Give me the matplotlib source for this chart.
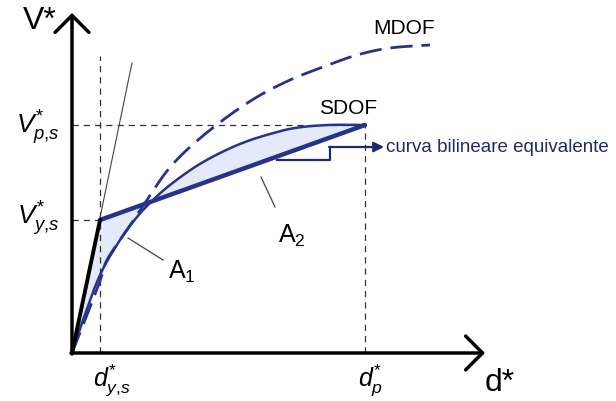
import matplotlib.pyplot as plt
import numpy as np

plt.rcParams['font.family'] = ['Liberation Sans', 'DejaVu Sans']
plt.rcParams['mathtext.fontset'] = 'custom'
plt.rcParams['mathtext.rm'] = 'Liberation Sans'
plt.rcParams['mathtext.it'] = 'Liberation Sans:italic'

# capacity curves (d*, V*) in drawing units
sdof_d = [0, 11, 28, 48, 65, 81, 98, 123, 148, 173, 198, 223, 256, 293]
sdof_V = [0, 33, 78, 113, 136, 153, 168, 186, 200, 211, 219, 225, 228, 228]

mdof_d = [0, 15, 28, 35, 55, 75, 95, 118, 151, 185, 218, 251, 285, 318, 358]
mdof_V = [0, 38, 72, 93, 123, 153, 182, 206, 233, 256, 273, 286, 298, 305, 308]

# equivalent bilinear curve
d_y, V_y = 28, 133
d_p, V_p = 293, 228
bil_d = [0, d_y, d_p]
bil_V = [0, V_y, V_p]

navy = '#27338a'
dark = '#1c2a6e'


def smooth(xs, ys, n=20):
    # catmull-rom through the read points, just for drawing
    p = np.column_stack([xs, ys]).astype(float)
    p = np.vstack([p[0], p, p[-1]])
    out = []
    t = np.linspace(0, 1, n, endpoint=False)[:, None]
    for i in range(1, len(p) - 2):
        p0, p1, p2, p3 = p[i - 1], p[i], p[i + 1], p[i + 2]
        out.append(0.5 * (2 * p1 + (-p0 + p2) * t + (2 * p0 - 5 * p1 + 4 * p2 - p3) * t ** 2
                          + (-p0 + 3 * p1 - 3 * p2 + p3) * t ** 3))
    out.append(p[-2][None, :])
    out = np.vstack(out)
    return out[:, 0], out[:, 1]


fig = plt.figure(figsize=(6.16, 4.01), dpi=100)
ax = fig.add_axes([0, 0, 1, 1])
ax.set_xlim(-72, 544)
ax.set_ylim(-48, 353)
ax.axis('off')

# axes with open arrow heads
arr = dict(arrowstyle='->,head_length=0.45,head_width=0.45', lw=2.5, color='black',
           mutation_scale=27, shrinkA=0, shrinkB=0)
ax.annotate('', xy=(0, 340), xytext=(0, -1), arrowprops=arr)
ax.annotate('', xy=(413, 0), xytext=(-1, 0), arrowprops=arr)

# guide lines
guide = dict(color='#333333', lw=0.9, ls=(0, (5, 4)))
ax.plot([0, d_p], [V_p, V_p], **guide)
ax.plot([d_p, d_p], [0, V_p], **guide)
ax.plot([0, d_y], [V_y, V_y], **guide)
ax.plot([d_y, d_y], [0, 297], **guide)

# initial stiffness line
ax.plot([0, 60], [0, 290], color='#444444', lw=0.8)

sx, sy = smooth(sdof_d, sdof_V)
mx, my = smooth(mdof_d, mdof_V)

# area between SDOF and bilinear
dd = np.linspace(0, d_p, 400)
ax.fill_between(dd, np.interp(dd, sx, sy), np.interp(dd, bil_d, bil_V),
                color='#e4eaf9', lw=0)

ax.plot(mx, my, color=navy, lw=2, ls=(0, (8, 3.2)))
ax.plot(sx, sy, color=navy, lw=1.8)
ax.plot(bil_d[1:], bil_V[1:], color=navy, lw=3.2, solid_capstyle='round')
ax.plot(bil_d[:2], bil_V[:2], color='black', lw=2.8, solid_capstyle='round')

# leader for bilinear label
ax.plot([205, 258, 258], [193, 193, 206], color=dark, lw=1.6)
ax.annotate('', xy=(312, 206), xytext=(257, 206),
            arrowprops=dict(arrowstyle='-|>,head_length=0.5,head_width=0.25', color=dark,
                            lw=1.6, shrinkA=0, shrinkB=0, mutation_scale=12))
ax.text(314, 206, 'curva bilineare equivalente', fontsize=13.5, color=dark,
        ha='left', va='center')

# area labels
ax.plot([56, 91], [115, 93], color='#444444', lw=0.9)
ax.plot([189, 203], [176, 146], color='#444444', lw=0.9)
ax.text(96, 81, r'$\mathregular{A_1}$', fontsize=18, ha='left', va='center')
ax.text(206, 117, r'$\mathregular{A_2}$', fontsize=18, ha='left', va='center')

ax.text(332, 325, 'MDOF', fontsize=15, ha='center', va='center')
ax.text(276, 245, 'SDOF', fontsize=15, ha='center', va='center')

# axis labels
ax.text(-32, 332, 'V*', fontsize=23, ha='center', va='center')
ax.text(428, -30, 'd*', fontsize=23, ha='center', va='center')
ax.text(-12, 225, r'$V^{*}_{p{,}s}$', fontsize=19, ha='right', va='center')
ax.text(-12, 134, r'$V^{*}_{y{,}s}$', fontsize=19, ha='right', va='center')
ax.text(40, -27, r'$d^{*}_{y{,}s}$', fontsize=18, ha='center', va='center')
ax.text(299, -27, r'$d^{*}_{p}$', fontsize=18, ha='center', va='center')

fig.savefig('out.png', dpi=100)
